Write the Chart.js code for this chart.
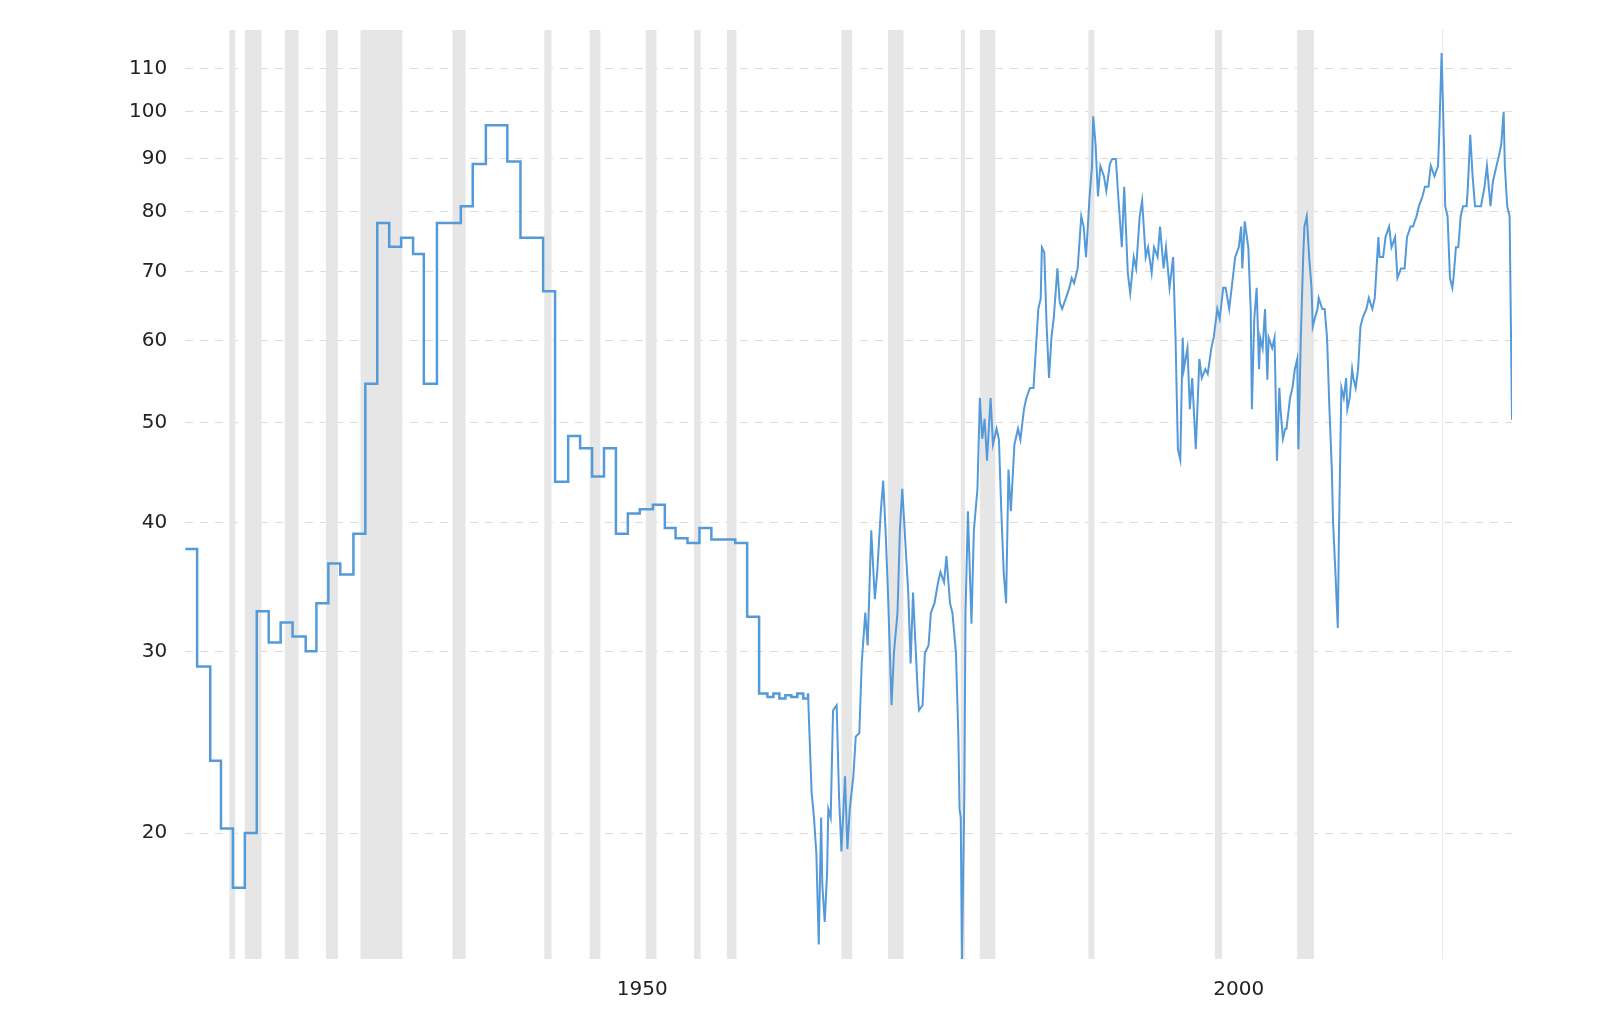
<!DOCTYPE html>
<html>
<head>
<meta charset="utf-8">
<script src="https://cdn.jsdelivr.net/npm/chart.js@4"></script>
<style>
  html, body { margin: 0; padding: 0; background: #fff; }
  #wrap { width: 1600px; height: 1009px; }
</style>
</head>
<body>
<div id="wrap"><canvas id="grafico"></canvas></div>
<script>
// early annual values (stepped)
const stepYears = [1911.7, 1912.7, 1913.8, 1914.7, 1915.7, 1916.7, 1917.7, 1918.7, 1919.7, 1920.7, 1921.8, 1922.7, 1923.7, 1924.7, 1925.8, 1926.8, 1927.8, 1928.8, 1929.8, 1930.8, 1931.7, 1932.8, 1934.8, 1935.8, 1936.9, 1938.7, 1939.8, 1941.7, 1942.7, 1943.8, 1944.8, 1945.8, 1946.8, 1947.8, 1948.8, 1949.8, 1950.9, 1951.9, 1952.8, 1953.8, 1954.8, 1955.8, 1957.8, 1958.8, 1959.8, 1960.5, 1961, 1961.5, 1962, 1962.5, 1963, 1963.5, 1963.9]
const stepValues = [37.7, 29, 23.5, 20.2, 17.7, 20, 32.8, 30.6, 32, 31, 30, 33.4, 36.5, 35.6, 39, 54.5, 78, 74, 75.5, 72.8, 54.5, 78, 81, 89, 97, 89.5, 75.5, 67, 43.8, 48.5, 47.2, 44.3, 47.2, 39, 40.8, 41.2, 41.6, 39.5, 38.6, 38.2, 39.5, 38.5, 38.2, 32.4, 27.3, 27.1, 27.3, 27.0, 27.2, 27.1, 27.3, 27.0, 27.3]

// later values
const years = [1963.9, 1964.2, 1964.4, 1964.6, 1964.8, 1965.0, 1965.1, 1965.3, 1965.5, 1965.6, 1965.8, 1966.0, 1966.3, 1966.5, 1966.7, 1967.0, 1967.2, 1967.4, 1967.7, 1967.9, 1968.2, 1968.4, 1968.7, 1968.9, 1969.2, 1969.5, 1969.7, 1970.0, 1970.2, 1970.4, 1970.6, 1970.9, 1971.1, 1971.4, 1971.6, 1971.8, 1972.1, 1972.3, 1972.5, 1972.7, 1973.1, 1973.2, 1973.5, 1973.7, 1974.0, 1974.2, 1974.5, 1974.8, 1975.0, 1975.3, 1975.5, 1975.8, 1976.0, 1976.3, 1976.5, 1976.6, 1976.7, 1976.8, 1977.0, 1977.1, 1977.3, 1977.6, 1977.8, 1978.1, 1978.3, 1978.5, 1978.7, 1978.9, 1979.2, 1979.4, 1979.7, 1979.9, 1980.1, 1980.3, 1980.5, 1980.7, 1980.9, 1981.2, 1981.5, 1981.7, 1982.0, 1982.2, 1982.5, 1982.8, 1983.0, 1983.2, 1983.4, 1983.5, 1983.7, 1983.9, 1984.1, 1984.3, 1984.5, 1984.8, 1985.0, 1985.2, 1985.5, 1985.8, 1986.0, 1986.2, 1986.5, 1986.8, 1987.0, 1987.2, 1987.5, 1987.7, 1987.8, 1988.0, 1988.2, 1988.4, 1988.7, 1988.9, 1989.2, 1989.4, 1989.7, 1989.9, 1990.2, 1990.4, 1990.7, 1990.9, 1991.2, 1991.4, 1991.7, 1991.9, 1992.2, 1992.4, 1992.7, 1992.9, 1993.2, 1993.4, 1993.7, 1993.9, 1994.2, 1994.5, 1994.7, 1994.9, 1995.1, 1995.3, 1995.4, 1995.7, 1995.9, 1996.1, 1996.4, 1996.7, 1996.9, 1997.2, 1997.4, 1997.7, 1997.9, 1998.2, 1998.4, 1998.7, 1998.9, 1999.2, 1999.5, 1999.7, 2000.0, 2000.2, 2000.3, 2000.5, 2000.8, 2001.0, 2001.1, 2001.3, 2001.5, 2001.7, 2001.8, 2002.0, 2002.2, 2002.4, 2002.5, 2002.8, 2003.0, 2003.2, 2003.4, 2003.5, 2003.7, 2003.9, 2004.0, 2004.3, 2004.5, 2004.7, 2004.9, 2005.0, 2005.2, 2005.4, 2005.5, 2005.7, 2005.9, 2006.1, 2006.2, 2006.4, 2006.6, 2006.7, 2007.0, 2007.2, 2007.4, 2007.6, 2007.8, 2007.9, 2008.1, 2008.3, 2008.4, 2008.6, 2008.8, 2009.0, 2009.1, 2009.3, 2009.5, 2009.6, 2009.8, 2010.0, 2010.2, 2010.4, 2010.7, 2010.9, 2011.2, 2011.4, 2011.7, 2011.8, 2012.1, 2012.3, 2012.6, 2012.8, 2013.1, 2013.3, 2013.6, 2013.9, 2014.1, 2014.4, 2014.6, 2014.9, 2015.1, 2015.4, 2015.6, 2015.9, 2016.1, 2016.4, 2016.7, 2016.8, 2017.0, 2017.2, 2017.3, 2017.5, 2017.7, 2017.9, 2018.0, 2018.2, 2018.4, 2018.6, 2018.8, 2019.1, 2019.2, 2019.4, 2019.6, 2019.8, 2020.1, 2020.3, 2020.6, 2020.8, 2021.1, 2021.3, 2021.6, 2021.8, 2022.0, 2022.2, 2022.3, 2022.5, 2022.7, 2022.9]
const values = [27.3, 21.9, 20.7, 19.1, 15.6, 20.7, 17.8, 16.4, 18.3, 21.1, 20.7, 26.3, 26.6, 21.7, 19.2, 22.7, 19.3, 21.1, 22.7, 24.8, 25.0, 29.2, 32.7, 30.4, 39.3, 33.7, 35.8, 41.0, 43.9, 39.3, 34.2, 26.6, 29.9, 32.7, 39.3, 43.1, 37.5, 34.2, 29.2, 34.2, 27.3, 26.3, 26.6, 29.9, 30.4, 32.7, 33.4, 35.0, 35.8, 35.0, 37.1, 33.4, 32.7, 29.9, 24.8, 21.1, 20.7, 15.1, 21.7, 32.7, 41.0, 31.9, 39.3, 43.1, 52.8, 48.2, 50.4, 45.9, 52.8, 47.6, 49.3, 48.1, 41.0, 35.8, 33.4, 45.0, 41.0, 47.6, 49.3, 48.1, 51.5, 52.8, 54.0, 54.0, 59.0, 64.4, 65.9, 73.9, 73.1, 61.9, 55.2, 60.4, 63.2, 70.5, 65.3, 64.4, 65.9, 67.5, 69.0, 68.2, 70.5, 79.2, 77.4, 72.3, 82.8, 88.6, 99, 93, 82.8, 88.6, 86.6, 83.8, 89, 90, 90, 82.8, 73.9, 84.6, 69.8, 66.7, 72.3, 70.5, 79.2, 82.0, 72.3, 73.9, 69.8, 73.9, 72.3, 77.4, 70.5, 73.9, 67.5, 72.3, 60.4, 47.1, 46.0, 60.4, 56.3, 59.0, 51.5, 55.2, 47.1, 57.6, 55.2, 56.3, 55.7, 59.0, 60.4, 64.4, 63.0, 67.5, 67.5, 64.4, 69.0, 72.3, 73.9, 77.4, 70.5, 78.3, 73.9, 64.4, 51.5, 63.0, 67.5, 56.3, 60.4, 59.0, 64.4, 55.0, 60.4, 59.0, 60.4, 45.9, 54.0, 51.5, 48.2, 49.3, 49.3, 52.8, 54.0, 56.3, 57.6, 47.1, 60.4, 72.3, 77.4, 79.2, 72.3, 67.5, 61.9, 63.2, 64.4, 66.0, 64.4, 64.4, 60.4, 51.5, 45.0, 40.1, 35.8, 31.6, 39.3, 54.0, 52.8, 55.2, 51.5, 52.8, 56.3, 55.2, 54.0, 56.3, 61.9, 63.2, 64.4, 66.0, 64.4, 66.0, 75.6, 72.3, 72.3, 75.6, 77.4, 73.9, 75.6, 69.0, 70.5, 70.5, 75.6, 77.4, 77.4, 79.2, 81.0, 82.8, 84.6, 84.6, 88.6, 86.6, 88.6, 95, 114, 93, 81.0, 79.2, 69.0, 67.5, 69.0, 73.9, 73.9, 79.2, 81.0, 81.0, 84.6, 95, 86.6, 81.0, 81.0, 81.0, 84.6, 88.6, 81.0, 85.6, 88.6, 90.6, 93, 100, 88.6, 81.0, 79.2, 50.3]

// shaded periods
const recStart = [1915.4, 1916.7, 1920.05, 1923.5, 1926.4, 1934.1, 1941.8, 1945.6, 1950.3, 1954.35, 1957.1, 1966.7, 1970.6, 1976.7, 1978.3, 1987.4, 1998.0, 2004.9, 2017.05]
const recEnd = [1915.9, 1918.1, 1921.2, 1924.5, 1929.9, 1935.2, 1942.4, 1946.5, 1951.2, 1954.9, 1957.9, 1967.6, 1971.9, 1977.05, 1979.6, 1987.9, 1998.6, 2006.3, 2017.12]

const yTicks = [20, 30, 40, 50, 60, 70, 80, 90, 100, 110]
const xTicks = [1950, 2000]

const sombreado = {
  id: 'sombreado',
  beforeDatasetsDraw(chart) {
    const { ctx, chartArea, scales } = chart
    ctx.save()
    ctx.fillStyle = '#e6e6e6'
    for (let i = 0; i < recStart.length; i++) {
      const a = scales.x.getPixelForValue(recStart[i])
      const b = scales.x.getPixelForValue(recEnd[i])
      ctx.fillRect(a, chartArea.top, Math.max(b - a, 1), chartArea.bottom - chartArea.top)
    }
    ctx.restore()
  }
}

const cor = '#559ad8'

new Chart(document.getElementById('grafico'), {
  type: 'line',
  data: {
    datasets: [{
      data: stepYears.map((x, i) => ({ x, y: stepValues[i] })),
      stepped: 'before',
      borderColor: cor,
      borderWidth: 2.5,
      pointRadius: 0
    }, {
      data: years.map((x, i) => ({ x, y: values[i] })),
      borderColor: cor,
      borderWidth: 2,
      pointRadius: 0,
      tension: 0
    }]
  },
  options: {
    responsive: true,
    maintainAspectRatio: false,
    animation: false,
    layout: { padding: { left: 111, right: 88, top: 28, bottom: -12 } },
    plugins: { legend: { display: false }, tooltip: { enabled: false } },
    scales: {
      x: {
        type: 'linear',
        min: 1911.7,
        max: 2022.9,
        afterBuildTicks: axis => { axis.ticks = xTicks.map(v => ({ value: v })) },
        ticks: { font: { family: 'DejaVu Sans', size: 20 }, color: '#222', padding: 19, callback: v => String(v) },
        grid: { display: false, drawTicks: false },
        border: { display: false }
      },
      y: {
        type: 'logarithmic',
        min: 15.1,
        max: 120,
        afterBuildTicks: axis => { axis.ticks = yTicks.map(v => ({ value: v })) },
        ticks: { font: { family: 'DejaVu Sans', size: 20 }, color: '#222', padding: 18, callback: v => String(v) },
        grid: { color: '#dcdcdc', drawTicks: false },
        border: { display: false, dash: [8, 7] }
      }
    }
  },
  plugins: [sombreado]
})
</script>
</body>
</html>
